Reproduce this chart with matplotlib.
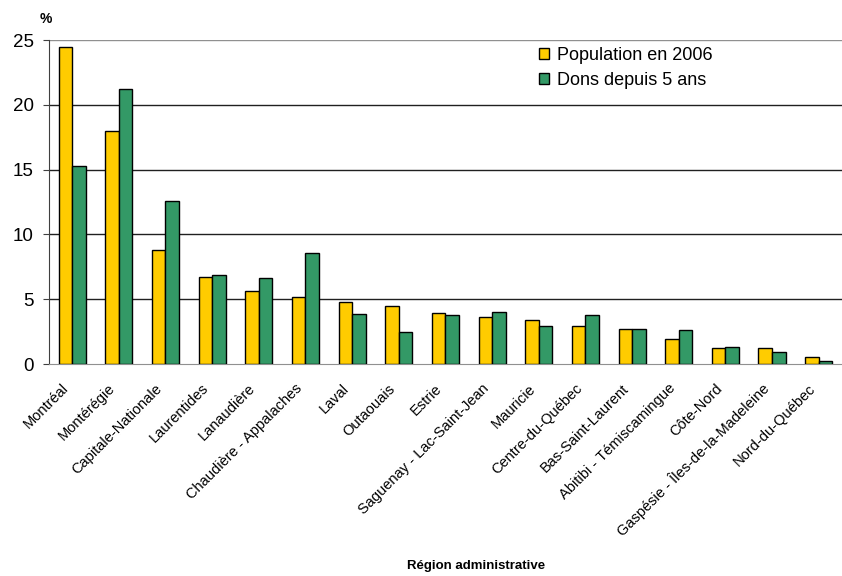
import matplotlib.pyplot as plt
import numpy as np

plt.rcParams['font.family'] = ['Liberation Sans', 'DejaVu Sans']

regions = ['Montréal', 'Montérégie', 'Capitale-Nationale', 'Laurentides', 'Lanaudière',
           'Chaudière - Appalaches', 'Laval', 'Outaouais', 'Estrie',
           'Saguenay - Lac-Saint-Jean', 'Mauricie', 'Centre-du-Québec',
           'Bas-Saint-Laurent', 'Abitibi - Témiscamingue', 'Côte-Nord',
           'Gaspésie - Îles-de-la-Madeleine', 'Nord-du-Québec']
population = [24.5, 18.0, 8.8, 6.75, 5.6, 5.2, 4.8, 4.5, 3.9, 3.6, 3.4, 2.9, 2.7, 1.9, 1.25, 1.25, 0.55]
dons = [15.3, 21.25, 12.6, 6.85, 6.6, 8.55, 3.85, 2.5, 3.8, 4.05, 2.9, 3.8, 2.7, 2.6, 1.35, 0.9, 0.2]

fig = plt.figure(figsize=(8.42, 5.76), dpi=100)
ax = fig.add_axes([0.058, 0.368, 0.942, 0.5625])

x = np.arange(len(regions))
w = 0.29
ax.bar(x - w/2, population, w, color='#FFCC00', edgecolor='black', linewidth=1, label='Population en 2006', zorder=3)
ax.bar(x + w/2, dons, w, color='#339966', edgecolor='black', linewidth=1, label='Dons depuis 5 ans', zorder=3)

ax.set_xlim(-0.5, len(regions) - 0.5)
ax.set_ylim(0, 25)
ax.set_yticks([0, 5, 10, 15, 20, 25])
ax.tick_params(axis='y', labelsize=13.5, length=4, color='#404040', pad=7)
ax.set_xticks(x - 0.12)
ax.set_xticklabels(regions, rotation=45, ha='right', va='center', rotation_mode='anchor', fontsize=10.5)
ax.tick_params(axis='x', length=0, pad=16)

for yv in [5, 10, 15, 20]:
    ax.axhline(yv, color='#202020', linewidth=1, zorder=1)
ax.axhline(25, color='#909090', linewidth=1, zorder=1)

ax.spines['right'].set_visible(False)
ax.spines['top'].set_visible(False)
ax.spines['left'].set_color('#404040')
ax.spines['bottom'].set_color('#909090')

ax.text(-0.004, 1.065, '%', transform=ax.transAxes, fontsize=10, fontweight='bold', ha='center', va='center')

ax.legend(loc='upper left', bbox_to_anchor=(0.598, 1.03), frameon=False, fontsize=13,
          handlelength=0.55, handleheight=0.55, handletextpad=0.4, labelspacing=0.45)

fig.text(0.565, 0.017, 'Région administrative', fontsize=9.5, fontweight='bold', ha='center', va='center')

plt.savefig('out.png', dpi=100)
